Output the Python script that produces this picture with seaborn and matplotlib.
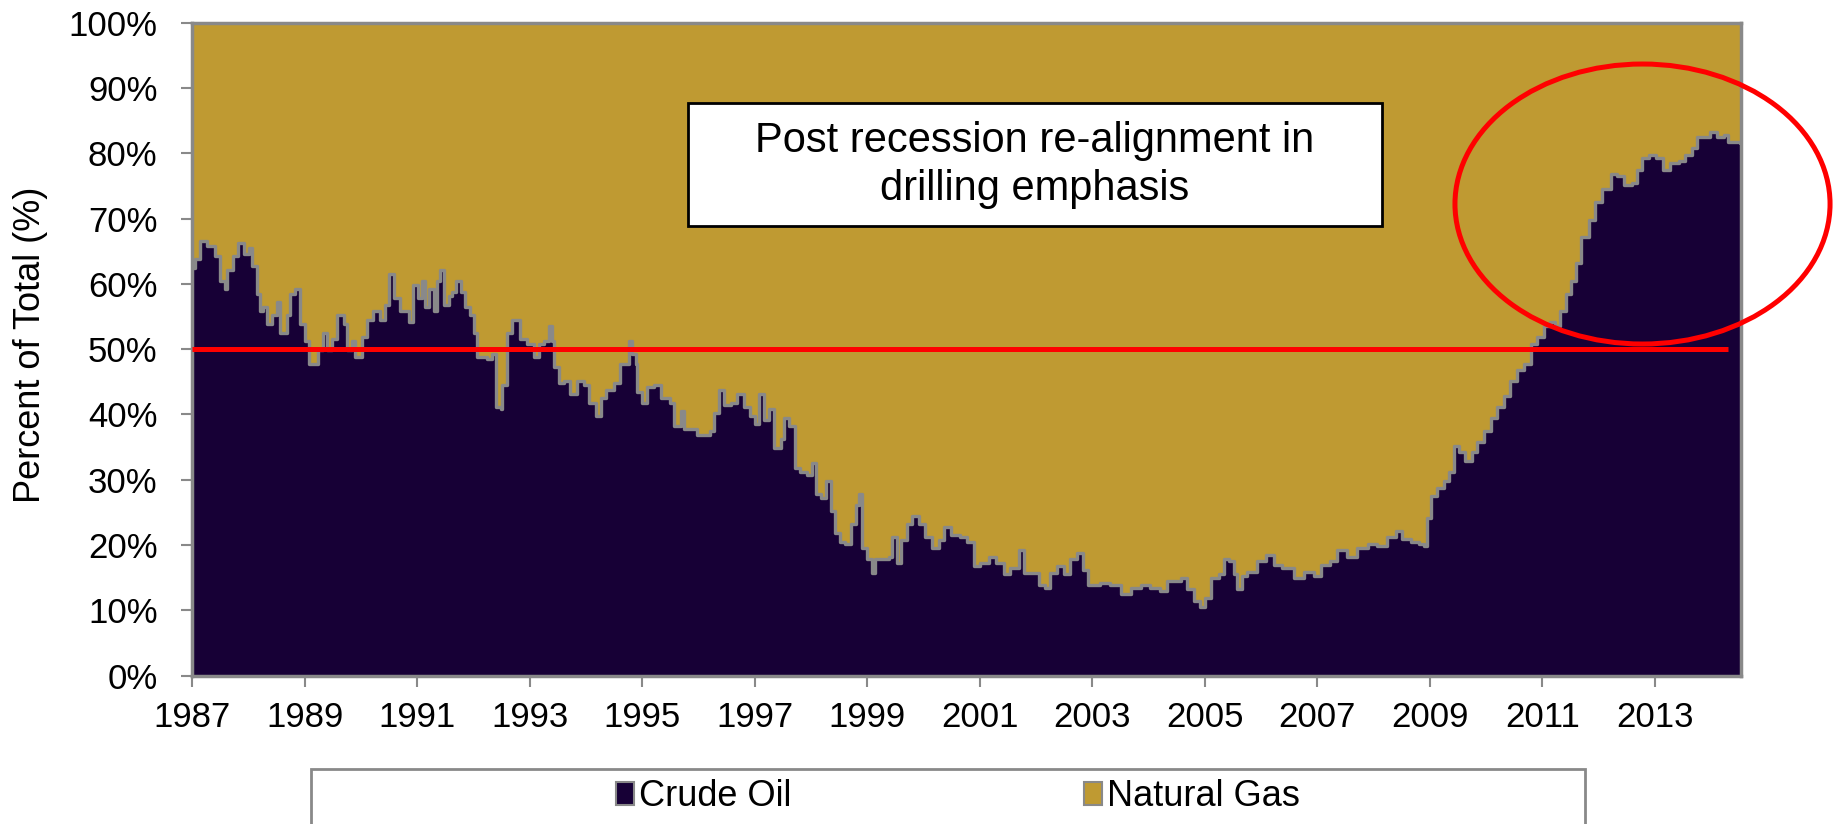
import matplotlib
matplotlib.use("Agg")
import matplotlib.pyplot as plt
from matplotlib.patches import Rectangle, Ellipse, Patch
import seaborn as sns

# Rig count share: crude oil vs natural gas
years = [
    1987.00, 1987.05, 1987.14, 1987.26, 1987.37, 1987.40, 1987.49, 1987.58, 1987.61, 1987.73,
    1987.82, 1987.91, 1988.00, 1988.06, 1988.15, 1988.20, 1988.26, 1988.32, 1988.41, 1988.50,
    1988.56, 1988.68, 1988.74, 1988.83, 1988.92, 1989.01, 1989.07, 1989.15, 1989.24, 1989.33,
    1989.39, 1989.48, 1989.57, 1989.69, 1989.75, 1989.84, 1989.90, 1990.01, 1990.10, 1990.22,
    1990.34, 1990.43, 1990.50, 1990.58, 1990.70, 1990.85, 1990.93, 1991.02, 1991.08, 1991.14,
    1991.20, 1991.29, 1991.35, 1991.41, 1991.47, 1991.56, 1991.62, 1991.68, 1991.77, 1991.85,
    1991.94, 1992.00, 1992.06, 1992.15, 1992.24, 1992.33, 1992.39, 1992.48, 1992.51, 1992.57,
    1992.60, 1992.69, 1992.74, 1992.83, 1992.95, 1993.07, 1993.16, 1993.25, 1993.34, 1993.40,
    1993.43, 1993.52, 1993.61, 1993.72, 1993.84, 1993.96, 1994.05, 1994.17, 1994.26, 1994.35,
    1994.50, 1994.61, 1994.76, 1994.82, 1994.88, 1994.91, 1995.00, 1995.09, 1995.21, 1995.33,
    1995.38, 1995.50, 1995.56, 1995.68, 1995.74, 1995.86, 1995.98, 1996.10, 1996.21, 1996.27,
    1996.36, 1996.45, 1996.57, 1996.69, 1996.81, 1996.92, 1997.01, 1997.07, 1997.16, 1997.25,
    1997.34, 1997.46, 1997.52, 1997.61, 1997.72, 1997.81, 1997.93, 1998.02, 1998.08, 1998.17,
    1998.26, 1998.35, 1998.43, 1998.52, 1998.61, 1998.70, 1998.79, 1998.85, 1998.91, 1999.00,
    1999.09, 1999.14, 1999.26, 1999.38, 1999.44, 1999.53, 1999.59, 1999.71, 1999.80, 1999.91,
    2000.03, 2000.15, 2000.27, 2000.36, 2000.48, 2000.65, 2000.77, 2000.89, 2001.01, 2001.16,
    2001.28, 2001.42, 2001.54, 2001.69, 2001.78, 2001.93, 2002.05, 2002.16, 2002.25, 2002.37,
    2002.49, 2002.61, 2002.73, 2002.84, 2002.93, 2003.14, 2003.32, 2003.50, 2003.68, 2003.86,
    2004.03, 2004.21, 2004.33, 2004.57, 2004.69, 2004.80, 2004.92, 2005.01, 2005.10, 2005.25,
    2005.34, 2005.43, 2005.52, 2005.57, 2005.66, 2005.75, 2005.93, 2006.08, 2006.23, 2006.37,
    2006.58, 2006.76, 2006.94, 2007.06, 2007.23, 2007.35, 2007.53, 2007.71, 2007.89, 2008.06,
    2008.24, 2008.39, 2008.51, 2008.66, 2008.80, 2008.89, 2008.95, 2009.01, 2009.13, 2009.25,
    2009.34, 2009.43, 2009.51, 2009.63, 2009.75, 2009.84, 2009.96, 2010.08, 2010.20, 2010.31,
    2010.43, 2010.55, 2010.67, 2010.79, 2010.91, 2011.02, 2011.14, 2011.23, 2011.32, 2011.41,
    2011.50, 2011.59, 2011.68, 2011.83, 2011.94, 2012.06, 2012.21, 2012.33, 2012.45, 2012.59,
    2012.68, 2012.77, 2012.89, 2013.01, 2013.15, 2013.27, 2013.42, 2013.54, 2013.65, 2013.74,
    2013.86, 2013.98, 2014.10, 2014.22, 2014.30, 2014.39, 2014.52,
]
crude_oil_pct = [
    62.5, 63.8, 66.5, 65.8, 65.8, 64.2, 60.5, 59.2, 62.2, 64.2,
    66.2, 64.5, 65.5, 62.8, 58.5, 55.8, 56.5, 53.8, 55.2, 57.2,
    52.5, 55.2, 58.5, 59.2, 53.8, 51.2, 47.8, 47.8, 49.8, 52.5,
    49.8, 51.5, 55.2, 53.8, 49.8, 51.2, 48.8, 51.8, 54.5, 55.8,
    54.5, 56.8, 61.5, 57.8, 55.8, 54.2, 59.8, 57.8, 60.5, 56.5,
    59.2, 55.8, 60.5, 62.2, 56.8, 58.2, 58.8, 60.5, 58.8, 56.5,
    55.2, 52.5, 48.8, 48.8, 48.5, 49.2, 41.2, 40.8, 44.5, 44.5,
    52.5, 54.5, 54.5, 51.5, 50.8, 48.8, 50.8, 51.2, 53.5, 51.2,
    47.2, 44.8, 45.2, 43.2, 45.2, 44.5, 41.8, 39.8, 42.5, 43.8,
    44.8, 47.8, 51.2, 49.2, 47.8, 43.5, 41.8, 44.2, 44.5, 42.5,
    42.5, 41.8, 38.2, 40.5, 37.8, 37.8, 36.8, 36.8, 37.5, 40.2,
    43.8, 41.5, 41.8, 43.2, 41.2, 39.8, 38.5, 43.2, 39.2, 40.8,
    34.8, 36.2, 39.5, 38.2, 31.8, 31.2, 30.8, 32.5, 27.8, 27.2,
    29.8, 25.2, 21.8, 20.5, 20.2, 23.2, 26.2, 27.8, 19.5, 17.8,
    15.8, 17.8, 17.8, 18.2, 21.2, 17.2, 20.8, 23.2, 24.5, 23.2,
    21.2, 19.5, 20.8, 22.8, 21.5, 21.2, 20.5, 16.8, 17.2, 18.2,
    17.2, 15.5, 16.5, 19.2, 15.8, 15.8, 13.9, 13.5, 15.8, 16.8,
    15.5, 17.8, 18.8, 16.2, 13.9, 14.2, 13.9, 12.5, 13.5, 13.9,
    13.5, 12.9, 14.5, 14.9, 13.2, 11.5, 10.5, 11.9, 14.9, 15.5,
    17.8, 17.5, 15.5, 13.2, 15.2, 15.9, 17.5, 18.5, 16.9, 16.5,
    14.9, 15.9, 15.2, 16.9, 17.5, 19.2, 18.2, 19.5, 20.2, 19.9,
    21.2, 22.2, 20.9, 20.5, 20.2, 19.9, 24.2, 27.5, 28.8, 29.8,
    31.2, 35.2, 34.2, 32.8, 34.2, 35.8, 37.5, 39.5, 41.2, 42.8,
    45.2, 46.8, 47.8, 50.8, 51.8, 53.5, 54.2, 53.5, 55.8, 58.5,
    60.5, 63.2, 67.2, 69.8, 72.5, 74.5, 76.8, 76.5, 75.2, 75.5,
    77.5, 79.2, 79.8, 79.2, 77.5, 78.5, 78.8, 79.8, 80.8, 82.5,
    82.5, 83.2, 82.5, 82.8, 81.8, 81.7, 81.5,
]
natural_gas_pct = [100 - v for v in crude_oil_pct]

year_ticks = list(range(1987, 2014, 2))
pct_ticks = list(range(0, 101, 10))
pct_labels = [f"{t}%" for t in pct_ticks]

OIL_COLOR = "#170036"
GAS_COLOR = "#BF9A32"
GRAY = "#898989"

sns.set_style("white")
plt.rcParams['font.family'] = ['Liberation Sans', 'DejaVu Sans']
plt.rcParams['text.color'] = 'black'

fig = plt.figure(figsize=(18.35, 8.24), dpi=100)
ax = fig.add_axes([0.1048, 0.18, 0.844, 0.7925])

# stacked areas (gas sits on top of oil)
tops = [o + g for o, g in zip(crude_oil_pct, natural_gas_pct)]
ax.fill_between(years, 0, crude_oil_pct, step="post", color=OIL_COLOR, lw=0)
ax.fill_between(years, crude_oil_pct, tops, step="post", color=GAS_COLOR, lw=0)
sns.lineplot(x=years, y=crude_oil_pct, ax=ax, color=GRAY, lw=2.4,
             drawstyle="steps-post", sort=False, estimator=None)

# 50% reference line
ax.hlines(50, 1987, 2014.3, color="#FF0000", lw=3.6, zorder=5)

ax.set_xlim(1987, 2014.53)
ax.set_ylim(0, 100)
ax.set_xticks(year_ticks)
ax.set_xticklabels([str(y) for y in year_ticks])
ax.set_yticks(pct_ticks)
ax.set_yticklabels(pct_labels)
ax.tick_params(axis="y", labelsize=25, length=8, width=1.5, color=GRAY, labelcolor="black",
               pad=17, left=True)
ax.tick_params(axis="x", labelsize=25, length=8, width=1.5, color=GRAY, labelcolor="black",
               pad=10, bottom=True)
for s in ax.spines.values():
    s.set_color(GRAY)
    s.set_linewidth(2.5)
ax.set_xlabel("")
ax.set_ylabel("")

fig.text(0.0165, 0.582, "Percent of Total (%)", rotation=90, ha="center", va="center",
         fontsize=26, color="black")

# annotation box
fig.patches.append(Rectangle((0.3749, 0.7257), 0.3782, 0.1493, transform=fig.transFigure,
                             facecolor="white", edgecolor="black", lw=2, zorder=5))
fig.text(0.564, 0.80, "Post recession re-alignment in\ndrilling emphasis", ha="center",
         va="center", fontsize=30, linespacing=1.25, color="black", zorder=6)

# highlight ellipse
fig.patches.append(Ellipse((0.8951, 0.7524), 0.2044, 0.3398, transform=fig.transFigure,
                           fill=False, edgecolor="#FF0000", lw=3.6, zorder=7))

# legend box at the bottom
fig.patches.append(Rectangle((0.1695, -0.1), 0.6943, 0.1667, transform=fig.transFigure,
                             facecolor="white", edgecolor=GRAY, lw=2, zorder=1))
handles = [Patch(facecolor=OIL_COLOR, edgecolor=GRAY, lw=1.5, label="Crude Oil"),
           Patch(facecolor=GAS_COLOR, edgecolor=GRAY, lw=1.5, label="Natural Gas")]
leg = fig.legend(handles=handles, loc="center", bbox_to_anchor=(0.522, 0.033), ncol=2,
                 frameon=False, fontsize=26, handlelength=0.5, handleheight=0.6,
                 handletextpad=0.15, columnspacing=8.1)
for t in leg.get_texts():
    t.set_color("black")

fig.savefig("out.png", dpi=100)
